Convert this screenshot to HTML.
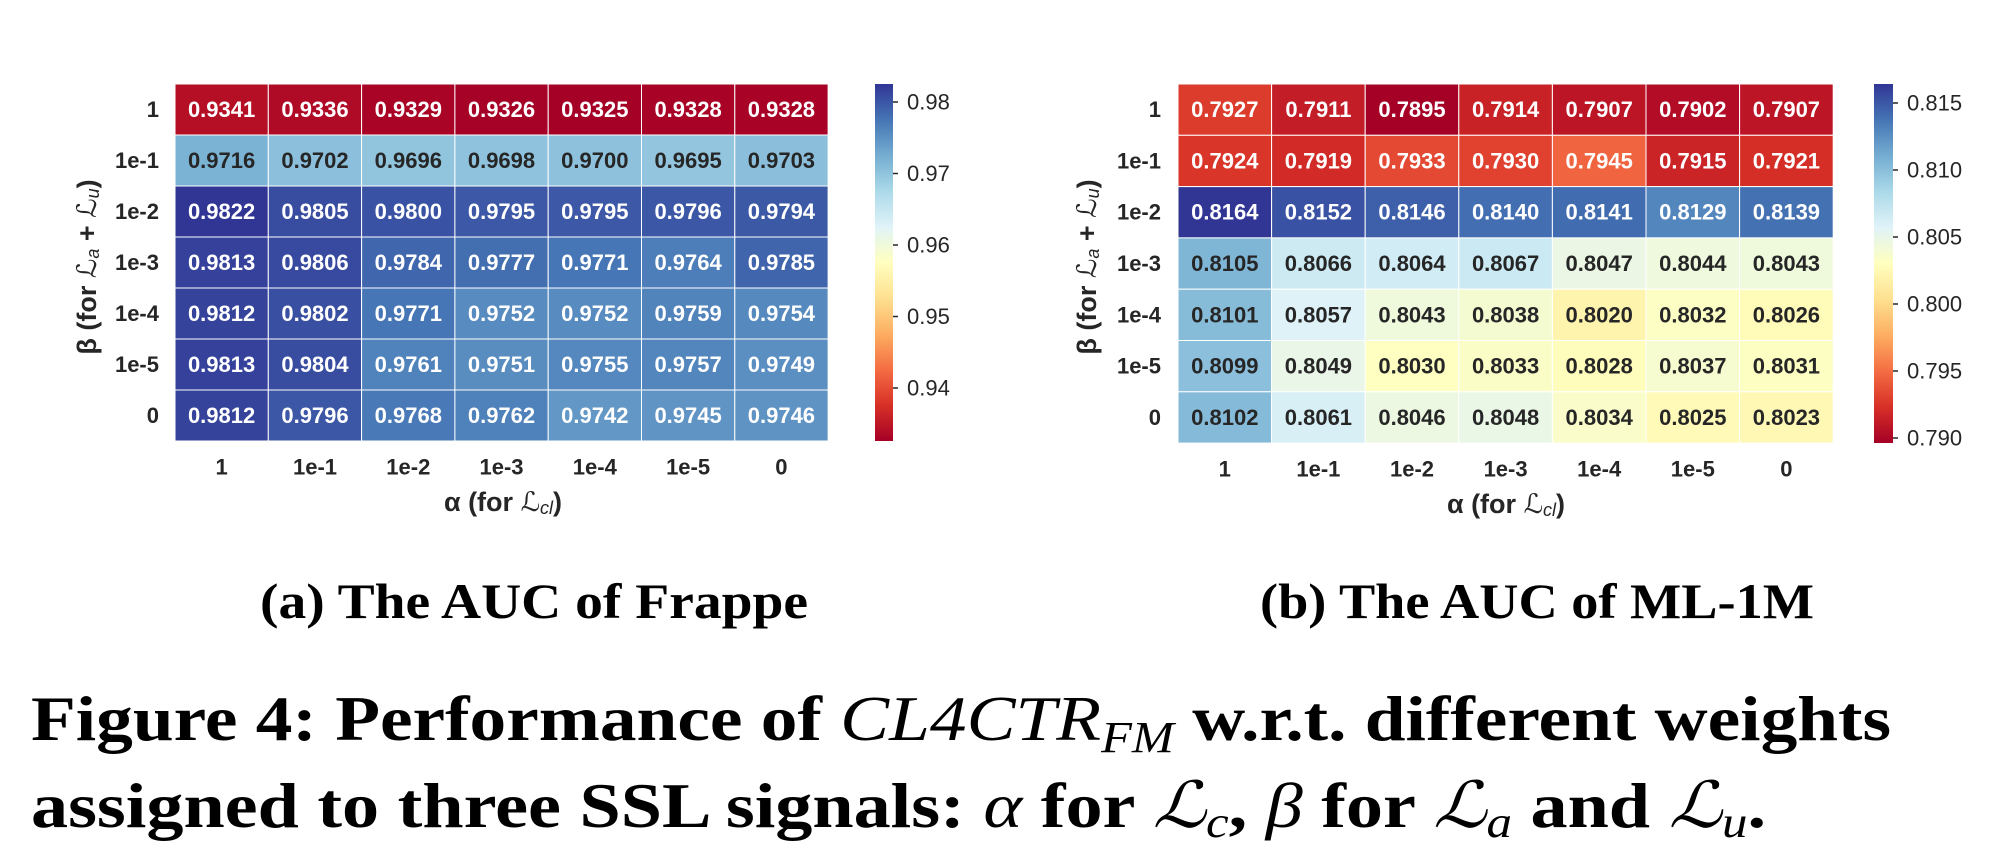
<!DOCTYPE html>
<html><head><meta charset="utf-8"><style>
html,body{margin:0;padding:0;background:#fff;}
svg{display:block}
.c{font-family:"Liberation Sans",sans-serif;font-weight:bold;font-size:22px;text-anchor:middle;dominant-baseline:central}
.w{fill:#fff}.d{fill:#262626}
.t{font-family:"Liberation Sans",sans-serif;font-weight:bold;font-size:22px;fill:#262626;dominant-baseline:central}
.cb{font-family:"Liberation Sans",sans-serif;font-size:22px;fill:#262626;dominant-baseline:central}
.lab{font-family:"Liberation Sans","DejaVu Sans",sans-serif;font-weight:bold;font-size:27px;fill:#262626;text-anchor:middle;dominant-baseline:central}
.cap{font-family:"Liberation Serif",serif;font-weight:bold;fill:#000}
</style></head><body>
<svg id="s" width="2004" height="860" xmlns="http://www.w3.org/2000/svg">
<defs>
<linearGradient id="g1" x1="0" y1="1" x2="0" y2="0">
<stop offset="0" stop-color="#a50026"/><stop offset="0.1" stop-color="#d73027"/><stop offset="0.2" stop-color="#f46d43"/><stop offset="0.3" stop-color="#fdae61"/><stop offset="0.4" stop-color="#fee090"/><stop offset="0.5" stop-color="#ffffbf"/><stop offset="0.6" stop-color="#e0f3f8"/><stop offset="0.7" stop-color="#abd9e9"/><stop offset="0.8" stop-color="#74add1"/><stop offset="0.9" stop-color="#4575b4"/><stop offset="1" stop-color="#313695"/>
</linearGradient>
</defs>
<g id="cellsA"></g><g id="cellsB"></g>
<rect x="875" y="84" width="18" height="357" fill="url(#g1)"/>
<rect x="1874" y="84" width="19" height="359" fill="url(#g1)"/>
<g stroke="#262626" stroke-width="1.5">
<line x1="893" y1="102" x2="898" y2="102"/><line x1="893" y1="173.5" x2="898" y2="173.5"/><line x1="893" y1="245" x2="898" y2="245"/><line x1="893" y1="316.5" x2="898" y2="316.5"/><line x1="893" y1="388" x2="898" y2="388"/>
<line x1="1893" y1="103" x2="1898" y2="103"/><line x1="1893" y1="170" x2="1898" y2="170"/><line x1="1893" y1="237" x2="1898" y2="237"/><line x1="1893" y1="304" x2="1898" y2="304"/><line x1="1893" y1="371" x2="1898" y2="371"/><line x1="1893" y1="438" x2="1898" y2="438"/>
</g>
<text class="cb" x="907" y="102">0.98</text><text class="cb" x="907" y="173.5">0.97</text><text class="cb" x="907" y="245">0.96</text><text class="cb" x="907" y="316.5">0.95</text><text class="cb" x="907" y="388">0.94</text>
<text class="cb" x="1907" y="103">0.815</text><text class="cb" x="1907" y="170">0.810</text><text class="cb" x="1907" y="237">0.805</text><text class="cb" x="1907" y="304">0.800</text><text class="cb" x="1907" y="371">0.795</text><text class="cb" x="1907" y="438">0.790</text>

<!-- left heatmap text -->
<g class="c">
<text class="w" x="221.6" y="109.5">0.9341</text><text class="w" x="315" y="109.5">0.9336</text><text class="w" x="408.3" y="109.5">0.9329</text><text class="w" x="501.5" y="109.5">0.9326</text><text class="w" x="594.8" y="109.5">0.9325</text><text class="w" x="688.1" y="109.5">0.9328</text><text class="w" x="781.4" y="109.5">0.9328</text>
<text class="d" x="221.6" y="160.5">0.9716</text><text class="d" x="315" y="160.5">0.9702</text><text class="d" x="408.3" y="160.5">0.9696</text><text class="d" x="501.5" y="160.5">0.9698</text><text class="d" x="594.8" y="160.5">0.9700</text><text class="d" x="688.1" y="160.5">0.9695</text><text class="d" x="781.4" y="160.5">0.9703</text>
<text class="w" x="221.6" y="211.5">0.9822</text><text class="w" x="315" y="211.5">0.9805</text><text class="w" x="408.3" y="211.5">0.9800</text><text class="w" x="501.5" y="211.5">0.9795</text><text class="w" x="594.8" y="211.5">0.9795</text><text class="w" x="688.1" y="211.5">0.9796</text><text class="w" x="781.4" y="211.5">0.9794</text>
<text class="w" x="221.6" y="262.5">0.9813</text><text class="w" x="315" y="262.5">0.9806</text><text class="w" x="408.3" y="262.5">0.9784</text><text class="w" x="501.5" y="262.5">0.9777</text><text class="w" x="594.8" y="262.5">0.9771</text><text class="w" x="688.1" y="262.5">0.9764</text><text class="w" x="781.4" y="262.5">0.9785</text>
<text class="w" x="221.6" y="313.5">0.9812</text><text class="w" x="315" y="313.5">0.9802</text><text class="w" x="408.3" y="313.5">0.9771</text><text class="w" x="501.5" y="313.5">0.9752</text><text class="w" x="594.8" y="313.5">0.9752</text><text class="w" x="688.1" y="313.5">0.9759</text><text class="w" x="781.4" y="313.5">0.9754</text>
<text class="w" x="221.6" y="364.5">0.9813</text><text class="w" x="315" y="364.5">0.9804</text><text class="w" x="408.3" y="364.5">0.9761</text><text class="w" x="501.5" y="364.5">0.9751</text><text class="w" x="594.8" y="364.5">0.9755</text><text class="w" x="688.1" y="364.5">0.9757</text><text class="w" x="781.4" y="364.5">0.9749</text>
<text class="w" x="221.6" y="415.5">0.9812</text><text class="w" x="315" y="415.5">0.9796</text><text class="w" x="408.3" y="415.5">0.9768</text><text class="w" x="501.5" y="415.5">0.9762</text><text class="w" x="594.8" y="415.5">0.9742</text><text class="w" x="688.1" y="415.5">0.9745</text><text class="w" x="781.4" y="415.5">0.9746</text>
</g>
<!-- right heatmap text -->
<g class="c">
<text class="w" x="1224.8" y="109.6">0.7927</text><text class="w" x="1318.4" y="109.6">0.7911</text><text class="w" x="1412" y="109.6">0.7895</text><text class="w" x="1505.6" y="109.6">0.7914</text><text class="w" x="1599.2" y="109.6">0.7907</text><text class="w" x="1692.8" y="109.6">0.7902</text><text class="w" x="1786.4" y="109.6">0.7907</text>
<text class="w" x="1224.8" y="160.9">0.7924</text><text class="w" x="1318.4" y="160.9">0.7919</text><text class="w" x="1412" y="160.9">0.7933</text><text class="w" x="1505.6" y="160.9">0.7930</text><text class="w" x="1599.2" y="160.9">0.7945</text><text class="w" x="1692.8" y="160.9">0.7915</text><text class="w" x="1786.4" y="160.9">0.7921</text>
<text class="w" x="1224.8" y="212.2">0.8164</text><text class="w" x="1318.4" y="212.2">0.8152</text><text class="w" x="1412" y="212.2">0.8146</text><text class="w" x="1505.6" y="212.2">0.8140</text><text class="w" x="1599.2" y="212.2">0.8141</text><text class="w" x="1692.8" y="212.2">0.8129</text><text class="w" x="1786.4" y="212.2">0.8139</text>
<text class="d" x="1224.8" y="263.5">0.8105</text><text class="d" x="1318.4" y="263.5">0.8066</text><text class="d" x="1412" y="263.5">0.8064</text><text class="d" x="1505.6" y="263.5">0.8067</text><text class="d" x="1599.2" y="263.5">0.8047</text><text class="d" x="1692.8" y="263.5">0.8044</text><text class="d" x="1786.4" y="263.5">0.8043</text>
<text class="d" x="1224.8" y="314.8">0.8101</text><text class="d" x="1318.4" y="314.8">0.8057</text><text class="d" x="1412" y="314.8">0.8043</text><text class="d" x="1505.6" y="314.8">0.8038</text><text class="d" x="1599.2" y="314.8">0.8020</text><text class="d" x="1692.8" y="314.8">0.8032</text><text class="d" x="1786.4" y="314.8">0.8026</text>
<text class="d" x="1224.8" y="366.1">0.8099</text><text class="d" x="1318.4" y="366.1">0.8049</text><text class="d" x="1412" y="366.1">0.8030</text><text class="d" x="1505.6" y="366.1">0.8033</text><text class="d" x="1599.2" y="366.1">0.8028</text><text class="d" x="1692.8" y="366.1">0.8037</text><text class="d" x="1786.4" y="366.1">0.8031</text>
<text class="d" x="1224.8" y="417.4">0.8102</text><text class="d" x="1318.4" y="417.4">0.8061</text><text class="d" x="1412" y="417.4">0.8046</text><text class="d" x="1505.6" y="417.4">0.8048</text><text class="d" x="1599.2" y="417.4">0.8034</text><text class="d" x="1692.8" y="417.4">0.8025</text><text class="d" x="1786.4" y="417.4">0.8023</text>
</g>
<!-- tick labels -->
<g class="t" text-anchor="end">
<text x="159" y="109.5">1</text><text x="159" y="160.5">1e-1</text><text x="159" y="211.5">1e-2</text><text x="159" y="262.5">1e-3</text><text x="159" y="313.5">1e-4</text><text x="159" y="364.5">1e-5</text><text x="159" y="415.5">0</text>
<text x="1161" y="109.6">1</text><text x="1161" y="160.9">1e-1</text><text x="1161" y="212.2">1e-2</text><text x="1161" y="263.5">1e-3</text><text x="1161" y="314.8">1e-4</text><text x="1161" y="366.1">1e-5</text><text x="1161" y="417.4">0</text>
</g>
<g class="t" text-anchor="middle">
<text x="221.6" y="467">1</text><text x="315" y="467">1e-1</text><text x="408.3" y="467">1e-2</text><text x="501.5" y="467">1e-3</text><text x="594.8" y="467">1e-4</text><text x="688.1" y="467">1e-5</text><text x="781.4" y="467">0</text>
<text x="1224.8" y="469">1</text><text x="1318.4" y="469">1e-1</text><text x="1412" y="469">1e-2</text><text x="1505.6" y="469">1e-3</text><text x="1599.2" y="469">1e-4</text><text x="1692.8" y="469">1e-5</text><text x="1786.4" y="469">0</text>
</g>
<text class="lab" x="503" y="502">α (for <tspan font-style="italic" font-weight="normal">ℒ</tspan><tspan font-style="italic" font-weight="normal" font-size="18" dy="6">cl</tspan><tspan dy="-6">)</tspan></text>
<text class="lab" x="1506" y="504">α (for <tspan font-style="italic" font-weight="normal">ℒ</tspan><tspan font-style="italic" font-weight="normal" font-size="18" dy="6">cl</tspan><tspan dy="-6">)</tspan></text>
<text class="lab" transform="translate(87,267) rotate(-90)">β (for <tspan font-style="italic" font-weight="normal">ℒ</tspan><tspan font-style="italic" font-weight="normal" font-size="18" dy="6">a</tspan><tspan dy="-6"> + </tspan><tspan font-style="italic" font-weight="normal">ℒ</tspan><tspan font-style="italic" font-weight="normal" font-size="18" dy="6">u</tspan><tspan dy="-6">)</tspan></text>
<text class="lab" transform="translate(1087,267) rotate(-90)">β (for <tspan font-style="italic" font-weight="normal">ℒ</tspan><tspan font-style="italic" font-weight="normal" font-size="18" dy="6">a</tspan><tspan dy="-6"> + </tspan><tspan font-style="italic" font-weight="normal">ℒ</tspan><tspan font-style="italic" font-weight="normal" font-size="18" dy="6">u</tspan><tspan dy="-6">)</tspan></text>

<text class="cap" x="260" y="618" font-size="50" textLength="548" lengthAdjust="spacingAndGlyphs">(a) The AUC of Frappe</text>
<text class="cap" x="1260" y="618" font-size="50" textLength="554" lengthAdjust="spacingAndGlyphs">(b) The AUC of ML-1M</text>
<text class="cap" x="31" y="740" font-size="64" textLength="1860" lengthAdjust="spacingAndGlyphs">Figure 4: Performance of <tspan font-style="italic" font-weight="normal">CL4CTR</tspan><tspan font-style="italic" font-weight="normal" font-size="44" dy="12">FM</tspan><tspan dy="-12"> w.r.t. different weights</tspan></text>
<text class="cap" x="31" y="827" font-size="64" textLength="1735" lengthAdjust="spacingAndGlyphs">assigned to three SSL signals: <tspan font-style="italic" font-weight="normal">α</tspan> for <tspan font-style="italic" font-weight="normal">ℒ</tspan><tspan font-style="italic" font-weight="normal" font-size="44" dy="10">c</tspan><tspan dy="-10">, </tspan><tspan font-style="italic" font-weight="normal">β</tspan> for <tspan font-style="italic" font-weight="normal">ℒ</tspan><tspan font-style="italic" font-weight="normal" font-size="44" dy="10">a</tspan><tspan dy="-10"> and </tspan><tspan font-style="italic" font-weight="normal">ℒ</tspan><tspan font-style="italic" font-weight="normal" font-size="44" dy="10">u</tspan><tspan dy="-10">.</tspan></text>
</svg>
<script>
(function(){
var stops=[[165,0,38],[215,48,39],[244,109,67],[253,174,97],[254,224,144],[255,255,191],[224,243,248],[171,217,233],[116,173,209],[69,117,180],[49,54,149]];
function col(t){t=Math.max(0,Math.min(1,t));var p=t*10,i=Math.min(9,Math.floor(p)),f=p-i,a=stops[i],b=stops[i+1];
return 'rgb('+[0,1,2].map(function(k){return Math.round(a[k]+(b[k]-a[k])*f)}).join(',')+')';}
var A=[[.9341,.9336,.9329,.9326,.9325,.9328,.9328],[.9716,.9702,.9696,.9698,.9700,.9695,.9703],[.9822,.9805,.9800,.9795,.9795,.9796,.9794],[.9813,.9806,.9784,.9777,.9771,.9764,.9785],[.9812,.9802,.9771,.9752,.9752,.9759,.9754],[.9813,.9804,.9761,.9751,.9755,.9757,.9749],[.9812,.9796,.9768,.9762,.9742,.9745,.9746]];
var B=[[.7927,.7911,.7895,.7914,.7907,.7902,.7907],[.7924,.7919,.7933,.7930,.7945,.7915,.7921],[.8164,.8152,.8146,.8140,.8141,.8129,.8139],[.8105,.8066,.8064,.8067,.8047,.8044,.8043],[.8101,.8057,.8043,.8038,.8020,.8032,.8026],[.8099,.8049,.8030,.8033,.8028,.8037,.8031],[.8102,.8061,.8046,.8048,.8034,.8025,.8023]];
function draw(id,D,x0,y0,w,h,mn,mx){var g=document.getElementById(id),ns='http://www.w3.org/2000/svg';
for(var r=0;r<7;r++)for(var c=0;c<7;c++){var e=document.createElementNS(ns,'rect');
e.setAttribute('x',x0+c*w);e.setAttribute('y',y0+r*h);e.setAttribute('width',w);e.setAttribute('height',h);
e.setAttribute('fill',col((D[r][c]-mn)/(mx-mn)));e.setAttribute('stroke','#fff');e.setAttribute('stroke-width','1');g.appendChild(e);}}
draw('cellsA',A,175,84,93.3,51,.9325,.9822);
draw('cellsB',B,1178,84,93.6,51.3,.7895,.8164);
})();
</script>
</body></html>
